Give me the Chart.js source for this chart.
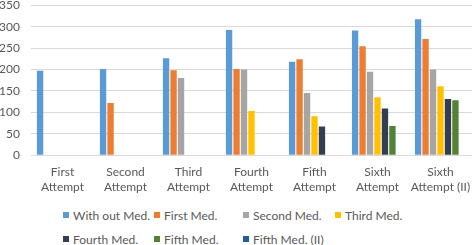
<!doctype html>
<html lang="en">
<head>
    <meta charset="utf-8">
    <script src="https://cdn.jsdelivr.net/npm/chart.js"></script>
    <style>
        body { margin: 0; background: #fff; font-family: Lato, "Liberation Sans", sans-serif; }
        #wrap { position: relative; width: 473px; height: 245px; overflow: hidden; }
        #myGraph { position: absolute; left: 0; top: -13px; }
        #legend {
            position: absolute; left: 63px; top: 207px;
            display: grid; grid-template-columns: 91px 89px 92px auto;
            row-gap: 8px; font-size: 12px; color: #595959;
        }
        #legend span.item { display: flex; align-items: center; height: 16px; white-space: nowrap; }
        #legend i { display: inline-block; width: 6px; height: 6px; margin-right: 4px; }
    </style>
</head>
<body>
    <div id="wrap">
        <canvas id="myGraph" width="473" height="209"></canvas>
        <div id="legend"></div>
    </div>

    <script>
        // categories (x axis)
        var labels = [
            ['First', 'Attempt'], ['Second', 'Attempt'], ['Third', 'Attempt'], ['Fourth', 'Attempt'],
            ['Fifth', 'Attempt'], ['Sixth', 'Attempt'], ['Sixth', 'Attempt (II)']
        ];
        // series names and colours
        var seriesNames = ['With out Med.', 'First Med.', 'Second Med.', 'Third Med.',
            'Fourth Med.', 'Fifth Med.', 'Fifth Med. (II)'];
        var seriesColors = ['#5B9BD5', '#ED7D31', '#A5A5A5', '#FFC000', '#333F50', '#548235', '#255E91'];
        // values, one array per series
        var withoutMed = [197, 201, 226, 292, 218, 291, 317];
        var firstMed   = [null, 122, 198, 201, 224, 254, 271];
        var secondMed  = [null, null, 180, 200, 145, 195, 200];
        var thirdMed   = [null, null, null, 103, 91, 135, 161];
        var fourthMed  = [null, null, null, null, 67, 109, 131];
        var fifthMed   = [null, null, null, null, null, 68, 128];
        var fifthMed2  = [null, null, null, null, null, null, null];
        var yTicks = [0, 50, 100, 150, 200, 250, 300, 350];

        var allSeries = [withoutMed, firstMed, secondMed, thirdMed, fourthMed, fifthMed, fifthMed2];
        var datasets = allSeries.map(function (d, i) {
            return {
                label: seriesNames[i],
                data: d,
                backgroundColor: seriesColors[i],
                categoryPercentage: 0.83,
                barPercentage: 0.85
            };
        });

        var legend = document.getElementById('legend');
        seriesNames.forEach(function (n, i) {
            var s = document.createElement('span');
            s.className = 'item';
            s.innerHTML = '<i style="background:' + seriesColors[i] + '"></i>' + n;
            legend.appendChild(s);
        });

        new Chart(document.getElementById('myGraph'), {
            type: 'bar',
            data: { labels: labels, datasets: datasets },
            options: {
                responsive: false,
                animation: false,
                layout: { padding: { top: 0, right: 1, left: 0, bottom: 0 } },
                plugins: { legend: { display: false }, tooltip: { enabled: false } },
                scales: {
                    x: {
                        grid: { display: false },
                        border: { display: false },
                        ticks: { color: '#595959', font: { family: 'Lato', size: 12 }, padding: 2, maxRotation: 0 }
                    },
                    y: {
                        min: 0, max: 350,
                        afterBuildTicks: function (axis) {
                            axis.ticks = yTicks.map(function (v) { return { value: v }; });
                        },
                        afterFit: function (axis) { axis.width = 31; },
                        grid: { color: '#D9D9D9', drawTicks: false },
                        border: { display: false },
                        ticks: { color: '#595959', font: { family: 'Lato', size: 12 }, padding: 11 }
                    }
                }
            }
        });
    </script>
</body>
</html>
